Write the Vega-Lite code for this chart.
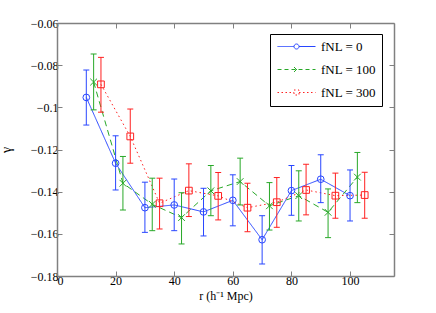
{
  "$schema": "https://vega.github.io/schema/vega-lite/v6.json",
  "width": 337,
  "height": 253,
  "autosize": "none",
  "padding": {"left": 57, "top": 23, "right": 42, "bottom": 37},
  "background": "white",
  "data": {"values": [
    {"f": "0", "r": 10, "g": -0.0953, "lo": -0.1084, "hi": -0.0823},
    {"f": "0", "r": 20, "g": -0.1265, "lo": -0.1392, "hi": -0.1135},
    {"f": "0", "r": 30, "g": -0.1476, "lo": -0.1593, "hi": -0.1355},
    {"f": "0", "r": 40, "g": -0.1463, "lo": -0.1585, "hi": -0.134},
    {"f": "0", "r": 50, "g": -0.1496, "lo": -0.161, "hi": -0.1384},
    {"f": "0", "r": 60, "g": -0.1441, "lo": -0.1562, "hi": -0.132},
    {"f": "0", "r": 70, "g": -0.1628, "lo": -0.1743, "hi": -0.1514},
    {"f": "0", "r": 80, "g": -0.1395, "lo": -0.1512, "hi": -0.1276},
    {"f": "0", "r": 90, "g": -0.1341, "lo": -0.1452, "hi": -0.1225},
    {"f": "0", "r": 100, "g": -0.1419, "lo": -0.1539, "hi": -0.1297},
    {"f": "100", "r": 12.5, "g": -0.088, "lo": -0.1012, "hi": -0.0747},
    {"f": "100", "r": 22.5, "g": -0.136, "lo": -0.1487, "hi": -0.1233},
    {"f": "100", "r": 32.5, "g": -0.146, "lo": -0.1585, "hi": -0.1336},
    {"f": "100", "r": 42.5, "g": -0.1523, "lo": -0.1648, "hi": -0.1405},
    {"f": "100", "r": 52.5, "g": -0.1396, "lo": -0.1514, "hi": -0.1276},
    {"f": "100", "r": 62.5, "g": -0.1352, "lo": -0.1463, "hi": -0.1241},
    {"f": "100", "r": 72.5, "g": -0.1467, "lo": -0.1582, "hi": -0.1357},
    {"f": "100", "r": 82.5, "g": -0.1419, "lo": -0.1539, "hi": -0.1301},
    {"f": "100", "r": 92.5, "g": -0.1498, "lo": -0.1618, "hi": -0.1387},
    {"f": "100", "r": 102.5, "g": -0.1331, "lo": -0.1452, "hi": -0.1214},
    {"f": "300", "r": 15, "g": -0.0891, "lo": -0.1023, "hi": -0.0763},
    {"f": "300", "r": 25, "g": -0.1138, "lo": -0.1265, "hi": -0.1008},
    {"f": "300", "r": 35, "g": -0.1455, "lo": -0.1577, "hi": -0.1336},
    {"f": "300", "r": 45, "g": -0.1395, "lo": -0.1518, "hi": -0.1268},
    {"f": "300", "r": 55, "g": -0.142, "lo": -0.1534, "hi": -0.1309},
    {"f": "300", "r": 65, "g": -0.1476, "lo": -0.159, "hi": -0.136},
    {"f": "300", "r": 75, "g": -0.145, "lo": -0.1569, "hi": -0.1333},
    {"f": "300", "r": 85, "g": -0.1392, "lo": -0.151, "hi": -0.127},
    {"f": "300", "r": 95, "g": -0.1419, "lo": -0.1526, "hi": -0.1312},
    {"f": "300", "r": 105, "g": -0.1416, "lo": -0.1526, "hi": -0.1308}
  ]},
  "resolve": {"axis": {"x": "independent", "y": "independent"}, "scale": {"shape": "independent", "strokeDash": "independent", "stroke": "independent"}},
  "layer": [
    {
      "mark": {"type": "line", "strokeWidth": 1},
      "encoding": {
        "x": {"field": "r", "type": "quantitative", "scale": {"domain": [0, 115], "nice": false, "zero": false},
              "axis": {"orient": "bottom", "values": [0, 20, 40, 60, 80, 100], "format": "~r", "title": "r (h⁻¹ Mpc)", "titlePadding": 4}},
        "y": {"field": "g", "type": "quantitative", "scale": {"domain": [-0.18, -0.06], "nice": false, "zero": false},
              "axis": {"orient": "left", "values": [-0.18, -0.16, -0.14, -0.12, -0.1, -0.08, -0.06], "format": "~r", "title": "γ", "titlePadding": 17, "titleFontSize": 14}},
        "color": {"field": "f", "type": "nominal",
                  "scale": {"domain": ["0", "100", "300"], "range": ["#2846ff", "#28a828", "#ff2020"]},
                  "legend": null},
        "strokeDash": {"field": "f", "type": "nominal", "scale": {"domain": ["0", "100", "300"], "range": [[1, 0], [6, 4], [1.5, 3]]}, "legend": null}
      }
    },
    {
      "mark": {"type": "rule", "strokeWidth": 1},
      "encoding": {
        "x": {"field": "r", "type": "quantitative", "axis": null},
        "y": {"field": "lo", "type": "quantitative", "axis": null},
        "y2": {"field": "hi"},
        "color": {"field": "f", "type": "nominal", "legend": null}
      }
    },
    {
      "mark": {"type": "tick", "orient": "horizontal", "size": 6, "thickness": 1, "opacity": 1},
      "encoding": {
        "x": {"field": "r", "type": "quantitative", "axis": null},
        "y": {"field": "lo", "type": "quantitative", "axis": null},
        "color": {"field": "f", "type": "nominal", "legend": null}
      }
    },
    {
      "mark": {"type": "tick", "orient": "horizontal", "size": 6, "thickness": 1, "opacity": 1},
      "encoding": {
        "x": {"field": "r", "type": "quantitative", "axis": null},
        "y": {"field": "hi", "type": "quantitative", "axis": null},
        "color": {"field": "f", "type": "nominal", "legend": null}
      }
    },
    {
      "mark": {"type": "point", "filled": false, "size": 45, "strokeWidth": 1, "opacity": 1},
      "encoding": {
        "x": {"field": "r", "type": "quantitative", "axis": null},
        "y": {"field": "g", "type": "quantitative", "axis": null},
        "color": {"field": "f", "type": "nominal", "legend": null},
        "shape": {"field": "f", "type": "nominal", "scale": {"domain": ["0", "100", "300"], "range": ["circle", "M-1,-1L1,1M-1,1L1,-1", "square"]}, "legend": null}
      }
    },
    {
      "transform": [{"filter": "false"}],
      "mark": {"type": "point", "filled": false, "size": 100, "strokeWidth": 1, "opacity": 1},
      "encoding": {
        "x": {"field": "r", "type": "quantitative", "axis": null},
        "y": {"field": "g", "type": "quantitative", "axis": null},
        "stroke": {"field": "f", "type": "nominal",
                  "scale": {"domain": ["0", "100", "300"], "range": ["#2846ff", "#28a828", "#ff2020"]},
                  "legend": {"title": null, "orient": "none", "legendX": 213, "legendY": 11,
                    "strokeColor": "#000000", "fillColor": "white", "padding": 6,
                    "symbolSize": 100, "rowPadding": 9, "labelOffset": 32, "symbolStrokeWidth": 1,
                    "symbolFillColor": "transparent",
                    "labelExpr": "'fNL = ' + datum.label", "labelFontSize": 13, "labelColor": "#000000"}},
        "shape": {"field": "f", "type": "nominal",
                  "scale": {"domain": ["0", "100", "300"], "range": ["M-1,0H2.3A0.5,0.5 0 1,1 3.3,0A0.5,0.5 0 1,1 2.3,0M3.3,0H6.6", "M-1,0H6.6M2.3,-0.5L3.3,0.5M2.3,0.5L3.3,-0.5", "M-1,0H2.3M3.3,0H6.6M2.3,-0.5H3.3V0.5H2.3Z"]},
                  "legend": {"title": null, "orient": "none", "legendX": 213, "legendY": 11,
                    "strokeColor": "#000000", "fillColor": "white", "padding": 6,
                    "symbolSize": 100, "rowPadding": 9, "labelOffset": 32, "symbolStrokeWidth": 1,
                    "symbolStrokeColor": "#000000", "symbolFillColor": "transparent",
                    "labelExpr": "'fNL = ' + datum.label", "labelFontSize": 13, "labelColor": "#000000"}},
        "strokeDash": {"field": "f", "type": "nominal",
                  "scale": {"domain": ["0", "100", "300"], "range": [[1, 0], [4, 3], [1.5, 2.5]]},
                  "legend": {"title": null, "orient": "none", "legendX": 213, "legendY": 11,
                    "strokeColor": "#000000", "fillColor": "white", "padding": 6,
                    "symbolSize": 100, "rowPadding": 9, "labelOffset": 32, "symbolStrokeWidth": 1,
                    "symbolStrokeColor": "#000000", "symbolFillColor": "transparent",
                    "labelExpr": "'fNL = ' + datum.label", "labelFontSize": 13, "labelColor": "#000000"}}
      }
    },
    {
      "mark": {"type": "point", "opacity": 0},
      "encoding": {
        "x": {"field": "r", "type": "quantitative",
              "axis": {"orient": "top", "values": [0, 20, 40, 60, 80, 100], "labels": false, "title": null}},
        "y": {"field": "g", "type": "quantitative",
              "axis": {"orient": "right", "values": [-0.18, -0.16, -0.14, -0.12, -0.1, -0.08, -0.06], "labels": false, "title": null}}
      }
    }
  ],
  "config": {
    "view": {"stroke": null},
    "font": "Liberation Serif",
    "legend": {"labelFont": "Liberation Serif"},
    "axis": {
      "domainColor": "#808080", "domainWidth": 1.5,
      "tickColor": "#808080", "tickSize": -5, "tickWidth": 1,
      "labelFont": "Liberation Serif", "labelFontSize": 12, "labelColor": "#000000", "labelPadding": 4,
      "titleFont": "Liberation Serif", "titleFontSize": 12, "titleFontWeight": "normal", "titleColor": "#000000",
      "grid": false
    }
  }
}
